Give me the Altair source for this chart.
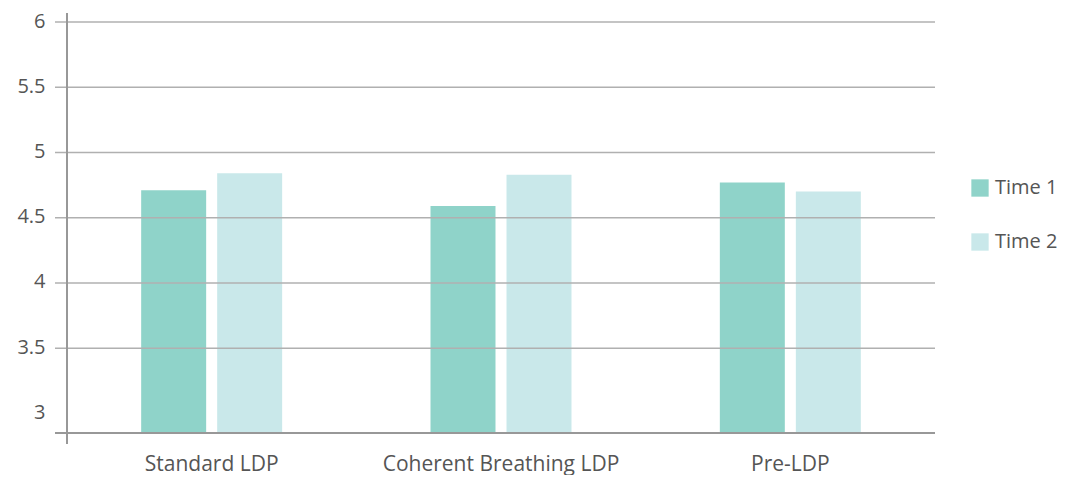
import altair as alt
import pandas as pd

categories = ["Standard LDP", "Coherent Breathing LDP", "Pre-LDP"]
series = ["Time 1", "Time 2"]
time1 = [4.71, 4.59, 4.77]
time2 = [4.84, 4.83, 4.70]
y_ticks = [3, 3.5, 4, 4.5, 5, 5.5, 6]
grid_values = [3.5, 4, 4.5, 5, 5.5, 6]
y_min, y_max = 2.85, 6

rows = []
for c, a, b in zip(categories, time1, time2):
    rows.append({"cat": c, "series": "Time 1", "value": a})
    rows.append({"cat": c, "series": "Time 2", "value": b})
df = pd.DataFrame(rows)
grid_df = pd.DataFrame({"g": grid_values})

W, H = 868, 411
FONT = "Open Sans"
yscale = alt.Scale(domain=[y_min, y_max], zero=False, nice=False)
yaxis = alt.Axis(title=None, values=y_ticks, grid=False, ticks=False,
                 domain=False, labelFont=FONT, labelFontSize=20, format="~g",
                 labelColor="#555555", labelPadding=22, labelOffset=-1)

bars = alt.Chart(df).mark_bar().encode(
    x=alt.X("cat:N", sort=categories,
            scale=alt.Scale(paddingInner=0, paddingOuter=0),
            axis=alt.Axis(title=None, labelAngle=0, ticks=False, domain=False,
                          labelFont=FONT, labelFontSize=21, labelColor="#555555",
                          labelPadding=20, labelLimit=500)),
    xOffset=alt.XOffset("series:N", sort=series,
                        scale=alt.Scale(paddingInner=0.145, paddingOuter=0.976)),
    y=alt.Y("value:Q", scale=yscale, axis=yaxis),
    y2=alt.datum(y_min),
    color=alt.Color("series:N", sort=series,
                    scale=alt.Scale(domain=series, range=["#8fd3c9", "#c9e8ea"]),
                    legend=alt.Legend(title=None, orient="none", legendX=903, legendY=156,
                                      symbolType="square", symbolSize=300,
                                      symbolStrokeWidth=0, labelFont=FONT,
                                      labelFontSize=20, labelColor="#555555",
                                      labelOffset=5, rowPadding=34)),
)

grid = alt.Chart(grid_df).mark_rule(color="#b0b0b0", strokeWidth=1.5).encode(
    y=alt.Y("g:Q", scale=yscale, axis=yaxis),
    x=alt.value(-12),
    x2=alt.value(W),
)

bottom = alt.Chart(grid_df).mark_rule(color="#999999", strokeWidth=1.5).encode(
    x=alt.value(-12), x2=alt.value(W), y=alt.value(H)
)
vert = alt.Chart(grid_df).mark_rule(color="#999999", strokeWidth=1.5).encode(
    x=alt.value(0), y=alt.value(-9), y2=alt.value(H + 11)
)

chart = alt.layer(bars, grid, bottom, vert).properties(
    width=W, height=H,
    autosize=alt.AutoSizeParams(type="none"),
    padding={"left": 59, "top": 14, "right": 130, "bottom": 42},
).configure_view(stroke=None)

chart.save("out.html", embed_options={"renderer": "svg", "actions": False})
